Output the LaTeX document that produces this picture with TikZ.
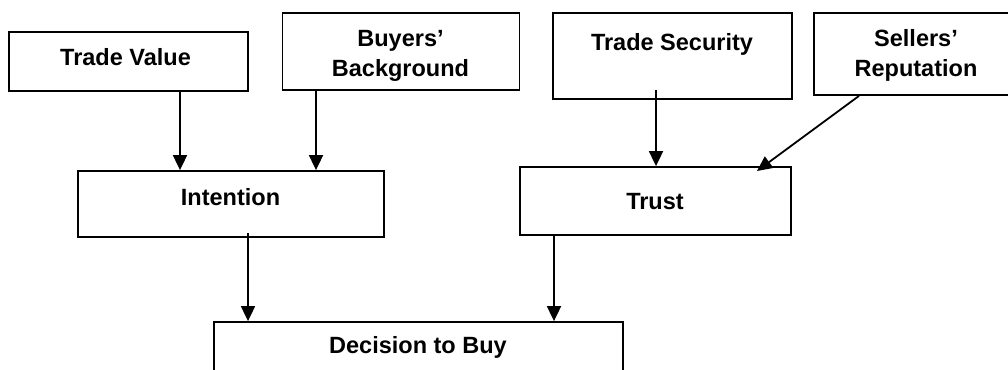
\documentclass[tikz,border=0pt]{standalone}
\usepackage{fontspec}
\setmainfont{Liberation Sans}
\usetikzlibrary{arrows.meta}
\begin{document}
\begin{tikzpicture}[x=1pt,y=-1pt,
  box/.style={draw, line width=1.8pt, rectangle, inner sep=0pt},
  txt/.style={font=\bfseries\fontsize{23.5}{31}\selectfont, align=center, inner sep=0pt},
  arr/.style={line width=1.8pt, -{Triangle[length=15pt,width=14pt]}}]
\useasboundingbox (0,0) rectangle (1008,369);
% boxes
\node[box, minimum width=239pt, minimum height=59pt] (tv) at (128.5,61.5) {};
\node[box, minimum width=237pt, minimum height=77pt] (bb) at (401,51.5) {};
\node[box, minimum width=239pt, minimum height=86pt] (ts) at (672.5,56) {};
\node[box, minimum width=204pt, minimum height=82pt] (sr) at (916,54) {};
\node[box, minimum width=306pt, minimum height=66pt] (int) at (231,204) {};
\node[box, minimum width=271pt, minimum height=68pt] (tr) at (655.5,201) {};
\node[box, minimum width=409pt, minimum height=68pt] (dec) at (418.5,356) {};
% texts (anchor base = baseline of the last line)
\node[txt, anchor=base] (tvt) at (125.5,66) {Trade Value};
\node[txt, anchor=base] (bbt) at (400.5,77) {Buyers'\\Background};
\node[txt, anchor=base] (tst) at (672,51) {Trade Security};
\node[txt, anchor=base] (srt) at (916,77) {Sellers'\\Reputation};
\node[txt, anchor=base] (intt) at (230.5,205) {Intention};
\node[txt, anchor=base] (trt) at (655,209) {Trust};
\node[txt, anchor=base] (dect) at (418,353) {Decision to Buy};
% connectors
\coordinate (p1) at (180,0);
\coordinate (p2) at (316,0);
\coordinate (s3) at (656,90);
\coordinate (p4) at (859,0);
\coordinate (e4) at (757,171);
\coordinate (s5) at (248,233);
\coordinate (p6) at (554,0);
\draw[arr] (tv.south -| p1) -- (int.north -| p1);
\draw[arr] (bb.south -| p2) -- (int.north -| p2);
\draw[arr] (s3) -- (tr.north -| s3);
\draw[arr] (sr.south -| p4) -- (e4);
\draw[arr] (s5) -- (dec.north -| s5);
\draw[arr] (tr.south -| p6) -- (dec.north -| p6);
\end{tikzpicture}
\end{document}
